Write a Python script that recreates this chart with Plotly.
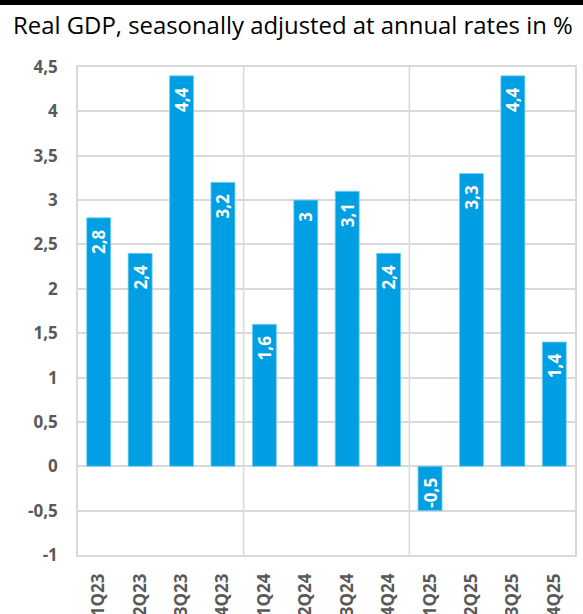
import plotly.graph_objects as go

categories = ["1Q23", "2Q23", "3Q23", "4Q23", "1Q24", "2Q24", "3Q24", "4Q24",
              "1Q25", "2Q25", "3Q25", "4Q25"]
gdp_growth = [2.8, 2.4, 4.4, 3.2, 1.6, 3.0, 3.1, 2.4, -0.5, 3.3, 4.4, 1.4]
y_ticks = [-1, -0.5, 0, 0.5, 1, 1.5, 2, 2.5, 3, 3.5, 4, 4.5]
year_breaks = [3.5, 7.5]

title_text = "Real GDP, seasonally adjusted at annual rates in %"

BLUE = "#009FE3"
GRID = "#D9D9D9"
TICKC = "#595959"
FONT = "Open Sans"

W, H = 583, 614
ML, MR, MT, MB = 78, 8, 67, 59
PH = H - MT - MB
PW = W - ML - MR

labels = [("{:.1f}".format(v).rstrip("0").rstrip(".")).replace(".", ",") + "\u00a0\u00a0" for v in gdp_growth]

fig = go.Figure(go.Bar(
    x=categories, y=gdp_growth,
    marker=dict(color=BLUE, line=dict(color="#7FCFF1", width=0.8)),
    width=0.58,
    text=labels, texttemplate="%{text}",
    textposition="inside", insidetextanchor="end", textangle=-90,
    constraintext="none",
    insidetextfont=dict(family=FONT, size=17, color="white", weight="bold"),
    cliponaxis=False,
    hoverinfo="skip",
))

shapes = []
for xb in year_breaks:
    shapes.append(dict(type="line", xref="x", yref="paper", x0=xb, x1=xb, y0=0, y1=1,
                       line=dict(color=GRID, width=1.5), layer="below"))
# black band on top of the page
shapes.append(dict(type="line", xref="paper", yref="paper",
                   x0=-ML / PW, x1=1 + MR / PW,
                   y0=1 + (MT - 2.5) / PH, y1=1 + (MT - 2.5) / PH,
                   line=dict(color="black", width=5)))

fig.update_layout(
    width=W, height=H,
    margin=dict(l=ML, r=MR, t=MT, b=MB, autoexpand=False),
    plot_bgcolor="white", paper_bgcolor="white",
    separators=",.",
    showlegend=False,
    shapes=shapes,
    annotations=[dict(text=title_text, xref="paper", yref="paper",
                      x=-ML / PW + 11 / PW, y=1 + (MT - 25) / PH,
                      xanchor="left", yanchor="middle", showarrow=False,
                      font=dict(family=FONT, size=23.9, color="black"))],
    xaxis=dict(
        type="category", range=[-0.5, 11.5],
        tickangle=-90, ticks="outside", ticklen=10, tickcolor="rgba(0,0,0,0)",
        tickfont=dict(family=FONT, size=17, color=TICKC, weight="bold"),
        showline=True, linecolor=GRID, linewidth=1.5, mirror=True,
        showgrid=False, automargin=False,
    ),
    yaxis=dict(
        range=[-1, 4.5], tickvals=y_ticks,
        ticktext=[("{:g}".format(t)).replace(".", ",") for t in y_ticks],
        ticks="outside", ticklen=15, tickcolor="rgba(0,0,0,0)",
        tickfont=dict(family=FONT, size=17, color=TICKC, weight="bold"),
        showgrid=True, gridcolor=GRID, gridwidth=1.5,
        zeroline=True, zerolinecolor=GRID, zerolinewidth=1.5,
        showline=True, linecolor=GRID, linewidth=1.5, mirror=True,
        automargin=False,
    ),
)

fig.write_html("out.html", config={"displayModeBar": False},
               post_script="document.body.style.margin='0';document.body.style.overflow='hidden';")
